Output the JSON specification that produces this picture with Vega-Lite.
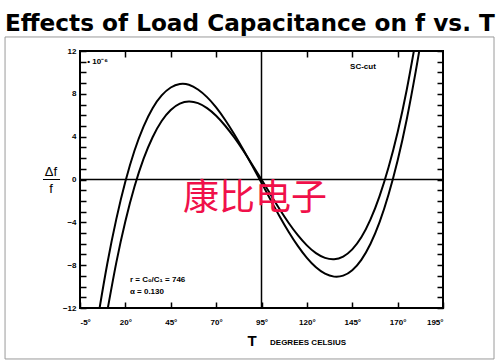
{
  "$schema": "https://vega.github.io/schema/vega-lite/v6.json",
  "width": 363,
  "height": 257,
  "autosize": "none",
  "padding": {"left": 80, "top": 51, "right": 57, "bottom": 55},
  "background": "white",
  "data": {"values": [{}]},
  "title": {
    "text": "Effects of Load Capacitance on f vs. T",
    "anchor": "start",
    "frame": "group",
    "dx": -75,
    "offset": -17.5,
    "baseline": "alphabetic",
    "font": "DejaVu Sans",
    "fontSize": 23.2,
    "fontWeight": "bold",
    "color": "black"
  },
  "config": {
    "view": {"stroke": "black", "strokeWidth": 2},
    "axis": {
      "grid": false,
      "domain": false,
      "tickColor": "black",
      "tickWidth": 1.5,
      "labelFont": "Liberation Sans",
      "labelFontWeight": "bold",
      "labelFontSize": 8,
      "labelColor": "black",
      "title": null
    }
  },
  "datasets": {
    "curves": [
      {"T": 5.5, "df": -12.3, "curve": "large"},
      {"T": 10, "df": -7.89, "curve": "large"},
      {"T": 15, "df": -3.70, "curve": "large"},
      {"T": 20, "df": -0.19, "curve": "large"},
      {"T": 25, "df": 2.68, "curve": "large"},
      {"T": 30, "df": 4.94, "curve": "large"},
      {"T": 35, "df": 6.66, "curve": "large"},
      {"T": 40, "df": 7.85, "curve": "large"},
      {"T": 45, "df": 8.59, "curve": "large"},
      {"T": 50, "df": 8.92, "curve": "large"},
      {"T": 55, "df": 8.85, "curve": "large"},
      {"T": 60, "df": 8.40, "curve": "large"},
      {"T": 65, "df": 7.69, "curve": "large"},
      {"T": 70, "df": 6.73, "curve": "large"},
      {"T": 75, "df": 5.56, "curve": "large"},
      {"T": 80, "df": 4.23, "curve": "large"},
      {"T": 85, "df": 2.78, "curve": "large"},
      {"T": 90, "df": 1.25, "curve": "large"},
      {"T": 95, "df": -0.31, "curve": "large"},
      {"T": 100, "df": -1.90, "curve": "large"},
      {"T": 105, "df": -3.45, "curve": "large"},
      {"T": 110, "df": -4.90, "curve": "large"},
      {"T": 115, "df": -6.20, "curve": "large"},
      {"T": 120, "df": -7.32, "curve": "large"},
      {"T": 125, "df": -8.20, "curve": "large"},
      {"T": 130, "df": -8.80, "curve": "large"},
      {"T": 135, "df": -9.07, "curve": "large"},
      {"T": 140, "df": -8.98, "curve": "large"},
      {"T": 145, "df": -8.47, "curve": "large"},
      {"T": 150, "df": -7.50, "curve": "large"},
      {"T": 155, "df": -6.02, "curve": "large"},
      {"T": 160, "df": -4.00, "curve": "large"},
      {"T": 165, "df": -1.40, "curve": "large"},
      {"T": 170, "df": 1.78, "curve": "large"},
      {"T": 175, "df": 5.60, "curve": "large"},
      {"T": 180, "df": 10.12, "curve": "large"},
      {"T": 182.5, "df": 12.6, "curve": "large"},
      {"T": 9.7, "df": -12.6, "curve": "small"},
      {"T": 15, "df": -7.76, "curve": "small"},
      {"T": 20, "df": -3.89, "curve": "small"},
      {"T": 25, "df": -0.68, "curve": "small"},
      {"T": 30, "df": 1.92, "curve": "small"},
      {"T": 35, "df": 3.95, "curve": "small"},
      {"T": 40, "df": 5.46, "curve": "small"},
      {"T": 45, "df": 6.49, "curve": "small"},
      {"T": 50, "df": 7.08, "curve": "small"},
      {"T": 55, "df": 7.28, "curve": "small"},
      {"T": 60, "df": 7.13, "curve": "small"},
      {"T": 65, "df": 6.67, "curve": "small"},
      {"T": 70, "df": 5.96, "curve": "small"},
      {"T": 75, "df": 5.02, "curve": "small"},
      {"T": 80, "df": 3.92, "curve": "small"},
      {"T": 85, "df": 2.68, "curve": "small"},
      {"T": 90, "df": 1.36, "curve": "small"},
      {"T": 95, "df": 0.0, "curve": "small"},
      {"T": 100, "df": -1.40, "curve": "small"},
      {"T": 105, "df": -2.78, "curve": "small"},
      {"T": 110, "df": -4.06, "curve": "small"},
      {"T": 115, "df": -5.20, "curve": "small"},
      {"T": 120, "df": -6.15, "curve": "small"},
      {"T": 125, "df": -6.88, "curve": "small"},
      {"T": 130, "df": -7.32, "curve": "small"},
      {"T": 135, "df": -7.45, "curve": "small"},
      {"T": 140, "df": -7.20, "curve": "small"},
      {"T": 145, "df": -6.53, "curve": "small"},
      {"T": 150, "df": -5.40, "curve": "small"},
      {"T": 155, "df": -3.75, "curve": "small"},
      {"T": 160, "df": -1.57, "curve": "small"},
      {"T": 165, "df": 1.14, "curve": "small"},
      {"T": 170, "df": 4.42, "curve": "small"},
      {"T": 175, "df": 8.36, "curve": "small"},
      {"T": 180, "df": 13.0, "curve": "small"}
    ]
  },
  "layer": [
    {
      "data": {"name": "curves"},
      "mark": {"type": "line", "clip": true, "strokeWidth": 2, "interpolate": "natural"},
      "encoding": {
        "x": {
          "field": "T", "type": "quantitative",
          "scale": {"domain": [-5, 195], "nice": false, "zero": false},
          "axis": {
            "orient": "bottom",
            "values": [-5, 20, 45, 70, 95, 120, 145, 170, 195],
            "tickSize": -6,
            "labelPadding": 16,
            "labelExpr": "datum.value + '°'"
          }
        },
        "y": {
          "field": "df", "type": "quantitative",
          "scale": {"domain": [-12, 12], "nice": false, "zero": false},
          "axis": {
            "orient": "left",
            "values": [-12, -11, -10, -9, -8, -7, -6, -5, -4, -3, -2, -1, 0, 1, 2, 3, 4, 5, 6, 7, 8, 9, 10, 11, 12],
            "tickSize": -6,
            "labelPadding": 10,
            "labelExpr": "datum.value % 4 == 0 ? datum.label : ''"
          }
        },
        "detail": {"field": "curve"},
        "color": {"value": "black"}
      }
    },
    {
      "mark": {"type": "rule", "color": "black", "strokeWidth": 1.5},
      "encoding": {
        "y": {
          "datum": 0, "type": "quantitative",
          "axis": {
            "orient": "right",
            "values": [-12, -11, -10, -9, -8, -7, -6, -5, -4, -3, -2, -1, 0, 1, 2, 3, 4, 5, 6, 7, 8, 9, 10, 11, 12],
            "tickSize": -6,
            "labels": false
          }
        }
      }
    },
    {
      "mark": {"type": "rule", "color": "black", "strokeWidth": 1.5},
      "encoding": {
        "x": {
          "datum": 95, "type": "quantitative",
          "axis": {
            "orient": "top",
            "values": [20, 45, 70, 120, 145, 170],
            "tickSize": -6,
            "labels": false
          }
        }
      }
    },
    {
      "mark": {"type": "text", "font": "Liberation Sans", "fontWeight": "bold", "fontSize": 8, "align": "left", "baseline": "middle", "color": "black"},
      "encoding": {
        "x": {"datum": -1.0, "type": "quantitative", "axis": null},
        "y": {"datum": 11.0, "type": "quantitative", "axis": null},
        "text": {"value": "• 10⁻⁶"}
      }
    },
    {
      "mark": {"type": "text", "font": "Liberation Sans", "fontWeight": "bold", "fontSize": 8, "align": "left", "baseline": "middle", "color": "black"},
      "encoding": {
        "x": {"datum": 143.8, "type": "quantitative", "axis": null},
        "y": {"datum": 10.5, "type": "quantitative", "axis": null},
        "text": {"value": "SC-cut"}
      }
    },
    {
      "mark": {"type": "text", "font": "Liberation Sans", "fontWeight": "bold", "fontSize": 8, "align": "left", "baseline": "middle", "color": "black"},
      "encoding": {
        "x": {"datum": 22.5, "type": "quantitative", "axis": null},
        "y": {"datum": -9.4, "type": "quantitative", "axis": null},
        "text": {"value": "r = C₀/C₁ = 746"}
      }
    },
    {
      "mark": {"type": "text", "font": "Liberation Sans", "fontWeight": "bold", "fontSize": 8, "align": "left", "baseline": "middle", "color": "black"},
      "encoding": {
        "x": {"datum": 22.5, "type": "quantitative", "axis": null},
        "y": {"datum": -10.5, "type": "quantitative", "axis": null},
        "text": {"value": "α = 0.130"}
      }
    },
    {
      "mark": {"type": "text", "font": "Noto Sans CJK SC", "fontSize": 36, "align": "center", "baseline": "middle", "color": "#f0104a"},
      "encoding": {
        "x": {"datum": 91.4, "type": "quantitative", "axis": null},
        "y": {"datum": -1.8, "type": "quantitative", "axis": null},
        "text": {"value": "康比电子"}
      }
    },
    {
      "mark": {"type": "text", "font": "Liberation Sans", "fontSize": 13, "align": "center", "baseline": "alphabetic", "color": "black", "clip": false},
      "encoding": {
        "x": {"datum": -21, "type": "quantitative", "axis": null},
        "y": {"datum": 0.35, "type": "quantitative", "axis": null},
        "text": {"value": "Δf"}
      }
    },
    {
      "mark": {"type": "text", "font": "Liberation Sans", "fontSize": 13, "align": "center", "baseline": "top", "color": "black", "clip": false},
      "encoding": {
        "x": {"datum": -21, "type": "quantitative", "axis": null},
        "y": {"datum": -0.3, "type": "quantitative", "axis": null},
        "text": {"value": "f"}
      }
    },
    {
      "mark": {"type": "rule", "color": "black", "strokeWidth": 1, "clip": false},
      "encoding": {
        "x": {"datum": -25.4, "type": "quantitative", "axis": null},
        "x2": {"datum": -16.0},
        "y": {"datum": 0, "type": "quantitative", "axis": null}
      }
    },
    {
      "mark": {"type": "text", "font": "Liberation Sans", "fontWeight": "bold", "fontSize": 15, "align": "center", "baseline": "middle", "color": "black", "clip": false},
      "encoding": {
        "x": {"datum": 89.8, "type": "quantitative", "axis": null},
        "y": {"datum": -15.1, "type": "quantitative", "axis": null},
        "text": {"value": "T"}
      }
    },
    {
      "mark": {"type": "text", "font": "Liberation Sans", "fontWeight": "bold", "fontSize": 8, "align": "left", "baseline": "middle", "color": "black", "clip": false},
      "encoding": {
        "x": {"datum": 99.7, "type": "quantitative", "axis": null},
        "y": {"datum": -15.3, "type": "quantitative", "axis": null},
        "text": {"value": "DEGREES CELSIUS"}
      }
    },
    {
      "mark": {"type": "rect", "fill": null, "stroke": "#9a9a9a", "strokeWidth": 1, "clip": false},
      "encoding": {
        "x": {"datum": -46.3, "type": "quantitative", "axis": null},
        "x2": {"datum": 223.1},
        "y": {"datum": 13.31, "type": "quantitative", "axis": null},
        "y2": {"datum": -16.76}
      }
    }
  ]
}
